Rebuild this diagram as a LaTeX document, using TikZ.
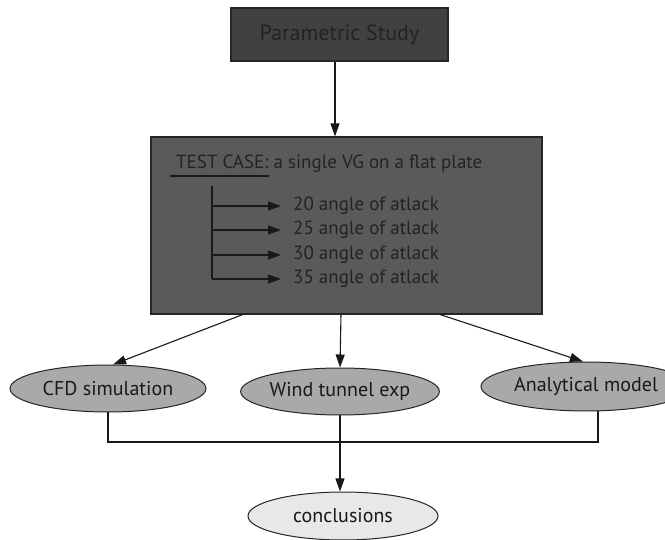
\documentclass[tikz,border=0pt]{standalone}
\usepackage{fontspec}
\setmainfont{PT Sans}
\usetikzlibrary{arrows.meta,shapes.geometric,calc,positioning}

\definecolor{studyFill}{HTML}{414141}
\definecolor{caseFill}{HTML}{5A5A5A}
\definecolor{methodFill}{HTML}{A9A9A9}
\definecolor{endFill}{HTML}{E8E8E8}
\definecolor{inkDark}{HTML}{242222}

\tikzset{
    flow/.style={line width=1.1pt, draw=black!90},
    tip/.style={-{Triangle[length=13pt, width=9pt]}},
    studybox/.style={
        draw=black!85, line width=1.2pt, fill=studyFill,
        text=inkDark, font=\fontsize{22}{24}\selectfont
    },
    casebox/.style={draw=black!85, line width=1.2pt, fill=caseFill},
    casetext/.style={text=inkDark, font=\fontsize{19}{21}\selectfont, inner sep=0pt},
    method/.style={
        ellipse, draw=black!85, line width=1pt, fill=methodFill,
        text=black!90, font=\fontsize{20}{22}\selectfont, inner sep=0pt
    }
}

\begin{document}
\begin{tikzpicture}[x=1pt, y=-1pt]

\useasboundingbox (0,0) rectangle (665,540);

% Geometry
\def\branchX{212}
\def\joinY{442}

% Top box and test case box
\node[studybox, minimum width=217pt, minimum height=53pt] (study) at (339.5,34.5) {Parametric Study};
\node[casebox, minimum width=391pt, minimum height=177pt] (case) at (346.5,225.5) {};

\draw[flow, tip] (study.south -| 335,0) -- (case.north -| 335,0);

% Test case title
\node[casetext, anchor=base west] (title) at (176,169) {TEST CASE: a single VG on a flat plate};
\coordinate (ulA) at (170,176);
\coordinate (ulB) at (269,176);
\draw[flow] (ulA) -- (ulB);

% Angles of attack
\node[casetext, anchor=west] (a20) at (293,206) {20 angle of atlack};
\node[casetext, anchor=west] (a25) at (293,230) {25 angle of atlack};
\node[casetext, anchor=west] (a30) at (293,255) {30 angle of atlack};
\node[casetext, anchor=west] (a35) at (293,279) {35 angle of atlack};

\coordinate (brTop) at (\branchX,186);
\draw[flow] (brTop) -- (brTop |- a35.west);
\draw[flow, tip] (brTop |- a20.west) -- ([xshift=-12pt]a20.west);
\draw[flow, tip] (brTop |- a25.west) -- ([xshift=-12pt]a25.west);
\draw[flow, tip] (brTop |- a30.west) -- ([xshift=-12pt]a30.west);
\draw[flow, tip] (brTop |- a35.west) -- ([xshift=-12pt]a35.west);

% Methods
\node[method, minimum width=196pt, minimum height=47pt] (cfd) at (108,388.5) {CFD simulation};
\node[method, minimum width=192pt, minimum height=47pt] (wind) at (340,391.5) {Wind tunnel exp};
\node[method, minimum width=210pt, minimum height=49pt] (anal) at (586,386.5) {Analytical model};

\draw[flow, tip] ($(case.south west)!0.235!(case.south east)$) -- (cfd.78);
\draw[flow, tip] ($(case.south west)!0.486!(case.south east)$) -- (wind.north);
\draw[flow, tip] ($(case.south west)!0.739!(case.south east)$) -- (anal.97);

% Conclusions
\node[method, fill=endFill, minimum width=190pt, minimum height=48pt] (concl) at (343,516) {conclusions};

\coordinate (joinL) at (108,\joinY);
\coordinate (joinR) at (598,\joinY);
\draw[flow] (cfd.south) -- (joinL) -- (joinR) -- (joinR |- anal.south);
\draw[flow, tip] (wind.south) -- (wind.south |- concl.north);

\end{tikzpicture}
\end{document}
